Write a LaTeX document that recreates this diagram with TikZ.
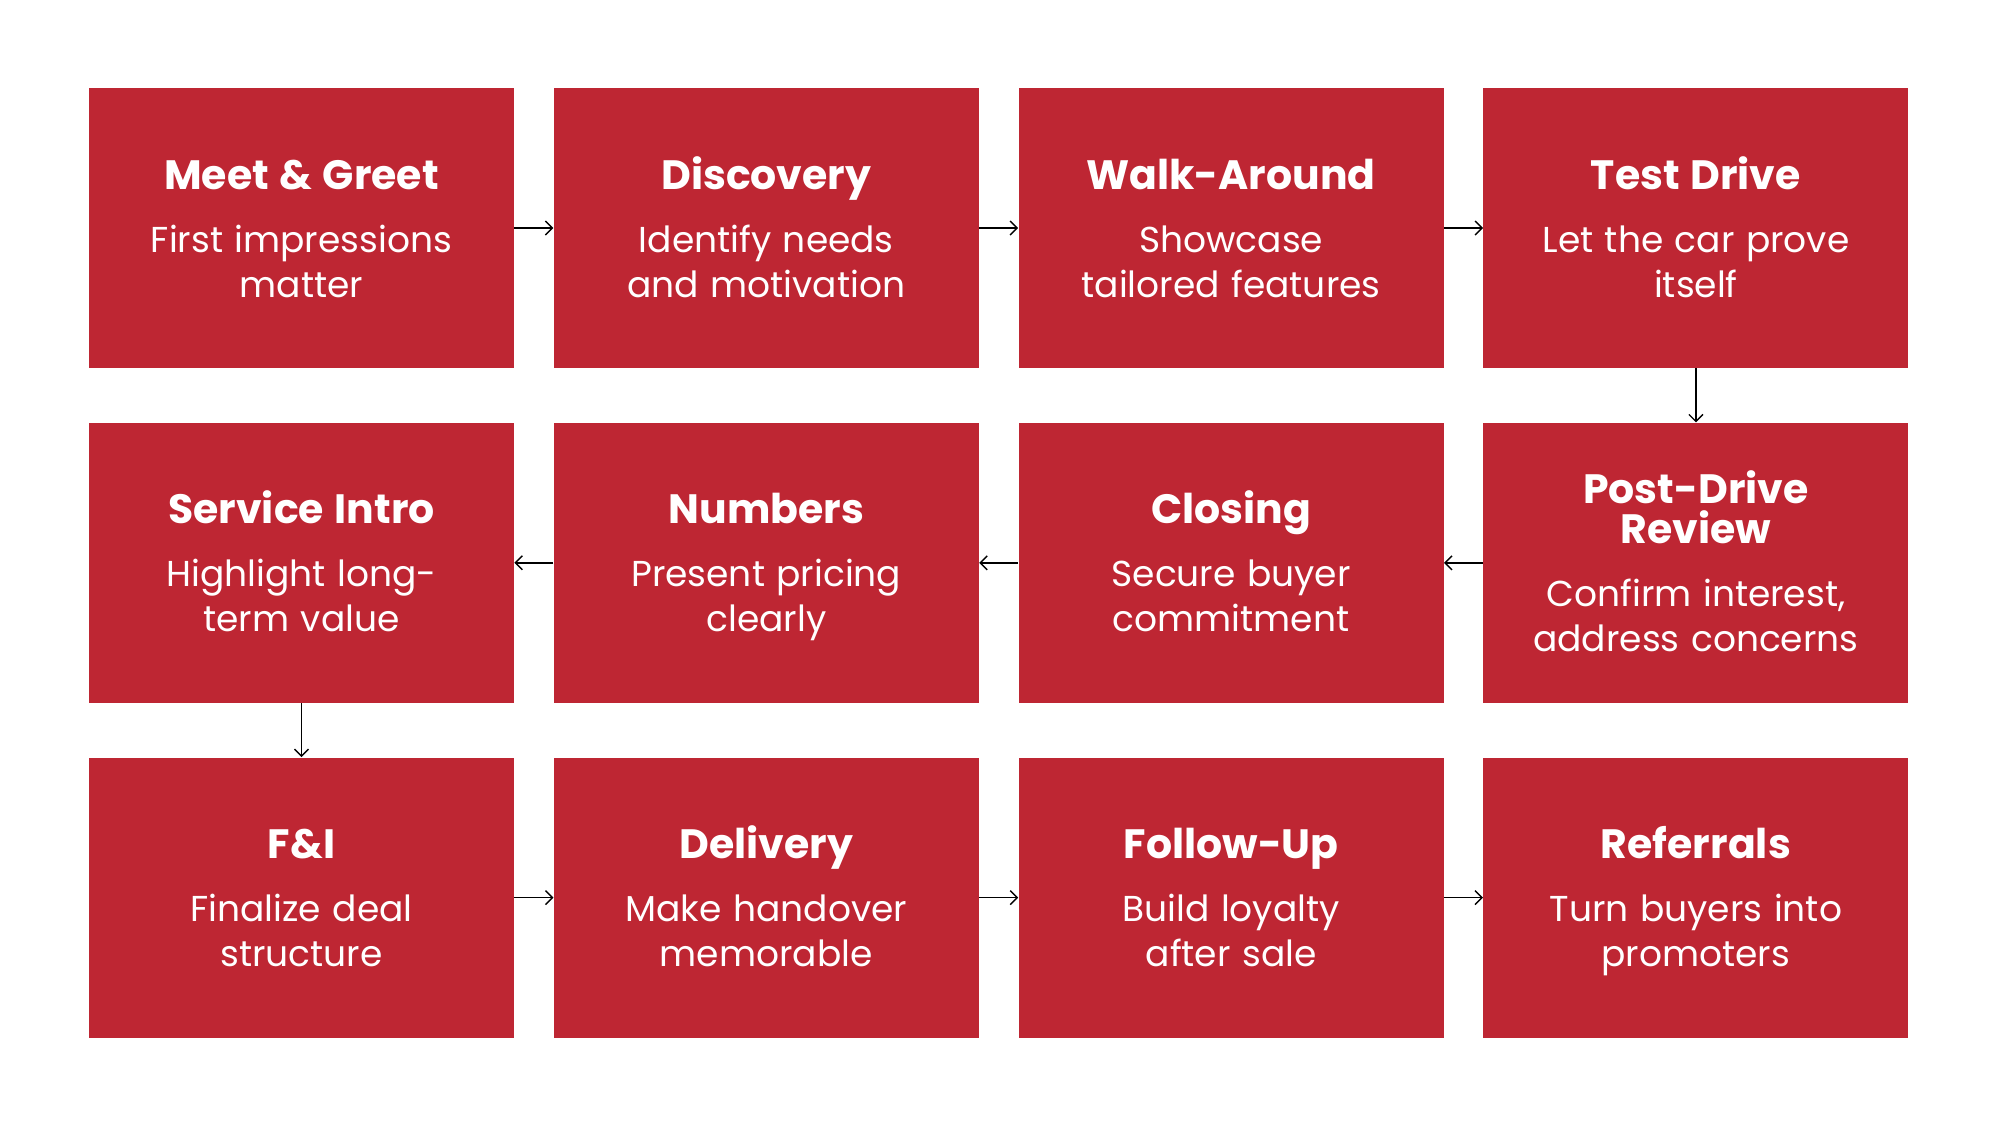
\documentclass[tikz,border=0pt]{standalone}
\usepackage{fontspec}
\setmainfont{Poppins}[UprightFont=*-Regular, BoldFont=*-Bold]
\usepackage{xcolor}
\usepackage{tikz}
\usetikzlibrary{positioning, arrows.meta}

\definecolor{stagered}{HTML}{BE2633}
\newcommand{\stagetext}[2]{{\fontsize{20.5}{20}\selectfont\bfseries\spaceskip=0.26em\rule{0pt}{19.5pt}#1\par}\vspace{9pt}{\fontsize{18}{22.5}\selectfont\spaceskip=0.32em #2\rule[-4.5pt]{0pt}{4.5pt}\par}}

\begin{document}
\begin{tikzpicture}[
            node distance=27pt and 19.5pt,
            stage/.style={rectangle, fill=stagered, text=white, minimum width=212.5pt, minimum height=140pt, text width=200pt, align=center, inner sep=0pt},
            flow/.style={-{Straight Barb[length=3.5pt,width=7pt]}, line width=0.7pt}
        ]

        \useasboundingbox (0,0) rectangle (1000pt,-562.5pt);

        % first row, left to right
        \node[stage] (meet) at (150.75pt,-114pt) {\stagetext{Meet \& Greet}{First impressions\\matter}};
        \node[stage] (discovery) [right=of meet] {\stagetext{Discovery}{Identify needs\\and motivation}};
        \node[stage] (walk) [right=of discovery] {\stagetext{Walk-Around}{Showcase\\tailored features}};
        \node[stage] (drive) [right=of walk] {\stagetext{Test Drive}{Let the car prove\\itself}};

        % second row, right to left
        \node[stage] (review) [below=of drive] {\stagetext{Post-Drive\\Review}{Confirm interest,\\address concerns}};
        \node[stage] (closing) [left=of review] {\stagetext{Closing}{Secure buyer\\commitment}};
        \node[stage] (numbers) [left=of closing] {\stagetext{Numbers}{Present pricing\\clearly}};
        \node[stage] (service) [left=of numbers] {\stagetext{Service Intro}{Highlight long-\\term value}};

        % third row, left to right
        \node[stage] (fni) [below=of service] {\stagetext{F\&I}{Finalize deal\\structure}};
        \node[stage] (delivery) [right=of fni] {\stagetext{Delivery}{Make handover\\memorable}};
        \node[stage] (followup) [right=of delivery] {\stagetext{Follow-Up}{Build loyalty\\after sale}};
        \node[stage] (referrals) [right=of followup] {\stagetext{Referrals}{Turn buyers into\\promoters}};

        \draw[flow] (meet) -- (discovery);
        \draw[flow] (discovery) -- (walk);
        \draw[flow] (walk) -- (drive);
        \draw[flow] (drive) -- (review);
        \draw[flow] (review) -- (closing);
        \draw[flow] (closing) -- (numbers);
        \draw[flow] (numbers) -- (service);
        \draw[flow] (service) -- (fni);
        \draw[flow] (fni) -- (delivery);
        \draw[flow] (delivery) -- (followup);
        \draw[flow] (followup) -- (referrals);

    \end{tikzpicture}
\end{document}
